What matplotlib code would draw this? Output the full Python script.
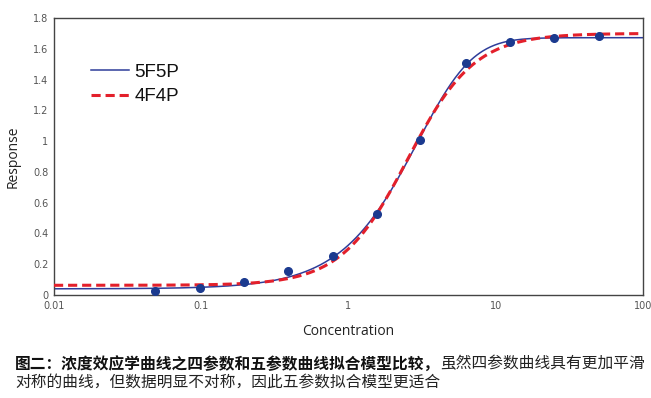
import numpy as np
import matplotlib
matplotlib.use("Agg")
import matplotlib.pyplot as plt
from matplotlib.ticker import FixedLocator, NullLocator

# ---- data ----
conc = [0.0488, 0.0977, 0.195, 0.391, 0.781, 1.5625, 3.06, 6.25, 12.5, 25, 50]
resp = [0.028, 0.048, 0.086, 0.156, 0.255, 0.528, 1.007, 1.508, 1.646, 1.672, 1.681]

# fitted model parameters
p5 = dict(a=0.040, d=1.672, c=6.80, b=1.50, g=3.5)   # 5F5P
p4 = dict(a=0.063, d=1.700, c=2.52, b=1.92)          # 4F4P

xticks = [0.01, 0.1, 1, 10, 100]
xticklabels = ["0.01", "0.1", "1", "10", "100"]
yticks = [0, 0.2, 0.4, 0.6, 0.8, 1.0, 1.2, 1.4, 1.6, 1.8]
yticklabels = ["0", "0.2", "0.4", "0.6", "0.8", "1", "1.2", "1.4", "1.6", "1.8"]

labels = ["5F5P", "4F4P"]
xlabel = "Concentration"
ylabel = "Response"
cap_bold = "图二：浓度效应学曲线之四参数和五参数曲线拟合模型比较，"
cap_norm1 = "虽然四参数曲线具有更加平滑"
cap_line2 = "对称的曲线，但数据明显不对称，因此五参数拟合模型更适合"


def five_pl(x, a, d, c, b, g):
    return d + (a - d) / (1.0 + (x / c) ** b) ** g


def four_pl(x, a, d, c, b):
    return d + (a - d) / (1.0 + (x / c) ** b)


W, H = 651, 398
fig = plt.figure(figsize=(W / 100, H / 100), dpi=100)
ax = fig.add_axes([54 / W, (H - 295) / H, (643 - 54) / W, (295 - 18) / H])

xs = np.logspace(-2, 2, 600)
ax.plot(xs, five_pl(xs, **p5), color="#2e3d9a", lw=1.1, label=labels[0], zorder=2)
ax.plot(xs, four_pl(xs, **p4), color="#e3202b", lw=2.2, ls=(0, (3.0, 1.6)),
        label=labels[1], zorder=3)
ax.plot(conc, resp, "o", color="#1b3a8f", ms=5.5, zorder=4)

ax.set_xscale("log")
ax.set_xlim(0.01, 100)
ax.set_ylim(0, 1.8)
ax.xaxis.set_major_locator(FixedLocator(xticks))
ax.xaxis.set_minor_locator(NullLocator())
ax.set_xticklabels(xticklabels)
ax.set_yticks(yticks)
ax.set_yticklabels(yticklabels)
ax.tick_params(length=0, labelsize=7, labelcolor="#555555", pad=4)
for s in ax.spines.values():
    s.set_color("#444444")
    s.set_linewidth(1.0)

ax.set_xlabel(xlabel, family="Open Sans", fontsize=10, color="#222222", labelpad=10)
ax.set_ylabel(ylabel, family="Open Sans", fontsize=10, color="#222222", labelpad=9)

leg = ax.legend(loc="upper left", bbox_to_anchor=(0.063, 0.835), frameon=False,
                prop={"family": "Liberation Sans", "size": 13.5},
                handlelength=2.0, handletextpad=0.3, labelspacing=0.4,
                borderpad=0, borderaxespad=0)
for t in leg.get_texts():
    t.set_color("#111111")

# caption
fp = ["Noto Sans CJK SC", "DejaVu Sans"]
t1 = fig.text(15 / W, 1 - 364 / H, cap_bold, family=fp, fontsize=11.3,
              fontweight="bold", va="center", ha="left", color="#111111")
fig.canvas.draw()
bb = t1.get_window_extent(renderer=fig.canvas.get_renderer())
fig.text(bb.x1 / W, 1 - 364 / H, cap_norm1, family=fp, fontsize=11.3,
         va="center", ha="left", color="#222222")
fig.text(15 / W, 1 - 382 / H, cap_line2, family=fp, fontsize=11.3,
         va="center", ha="left", color="#222222")

fig.savefig("out.png", dpi=100)
